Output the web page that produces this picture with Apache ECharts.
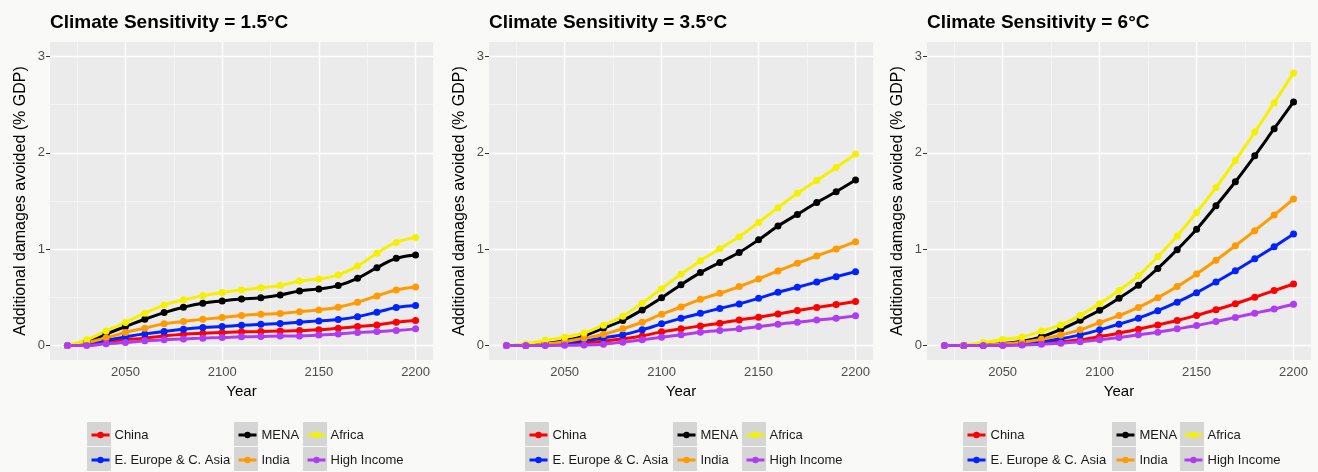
<!DOCTYPE html>
<html><head><meta charset="utf-8">
<script src="https://cdn.jsdelivr.net/npm/echarts@6/dist/echarts.min.js"></script>
<style>html,body{margin:0;padding:0;background:#f9f9f7}#c{width:1318px;height:472px}</style>
</head><body><div id="c"></div><script>
// ---- data ----
const years = [2020,2030,2040,2050,2060,2070,2080,2090,2100,2110,2120,2130,2140,2150,2160,2170,2180,2190,2200];
const regions = ['China','E. Europe & C. Asia','MENA','India','Africa','High Income'];
const regionColors = ['#ff0000','#0022ff','#000000','#ff9a00','#f5f000','#b03cf0'];
const panelTitles = ['Climate Sensitivity = 1.5°C','Climate Sensitivity = 3.5°C','Climate Sensitivity = 6°C'];
const xTickLabels = [2050,2100,2150,2200];
const yTickLabels = [0,1,2,3];
const xMinorGrid = [2025,2075,2125,2175];
const yMinorGrid = [0.5,1.5,2.5];

// Climate sensitivity 1.5°C
const cs15China  = [0,0.015,0.04,0.06,0.077,0.10,0.118,0.128,0.135,0.142,0.145,0.15,0.155,0.163,0.18,0.197,0.214,0.242,0.26];
const cs15EEurope= [0,0.02,0.055,0.09,0.121,0.145,0.17,0.187,0.197,0.21,0.22,0.228,0.242,0.256,0.27,0.30,0.346,0.394,0.415];
const cs15MENA   = [0,0.04,0.12,0.197,0.273,0.342,0.398,0.44,0.463,0.482,0.497,0.525,0.567,0.588,0.622,0.698,0.808,0.905,0.94];
const cs15India  = [0,0.03,0.08,0.135,0.18,0.225,0.249,0.273,0.29,0.312,0.325,0.332,0.352,0.37,0.398,0.45,0.515,0.577,0.608];
const cs15Africa = [0,0.06,0.15,0.24,0.336,0.42,0.474,0.518,0.55,0.577,0.60,0.622,0.67,0.69,0.733,0.826,0.957,1.07,1.12];
const cs15HighInc= [0,0.0,0.018,0.031,0.049,0.059,0.069,0.077,0.083,0.09,0.094,0.10,0.10,0.11,0.121,0.135,0.145,0.155,0.173];
// Climate sensitivity 3.5°C
const cs35China  = [0,0,0.005,0.012,0.025,0.045,0.07,0.10,0.142,0.173,0.204,0.232,0.266,0.294,0.328,0.363,0.396,0.425,0.456];
const cs35EEurope= [0,0,0.01,0.025,0.05,0.08,0.112,0.163,0.225,0.282,0.334,0.385,0.432,0.491,0.553,0.605,0.66,0.715,0.767];
const cs35MENA   = [0,0.005,0.02,0.05,0.10,0.18,0.26,0.37,0.497,0.632,0.757,0.862,0.966,1.097,1.24,1.361,1.484,1.596,1.717];
const cs35India  = [0,0,0.015,0.04,0.075,0.115,0.175,0.242,0.325,0.40,0.48,0.543,0.612,0.691,0.774,0.854,0.93,1.002,1.078];
const cs35Africa = [0,0.017,0.055,0.087,0.13,0.21,0.305,0.44,0.59,0.74,0.881,1.004,1.128,1.278,1.431,1.58,1.714,1.848,1.987];
const cs35HighInc= [0,0,0,0.003,0.006,0.014,0.035,0.059,0.087,0.111,0.139,0.156,0.173,0.197,0.222,0.242,0.264,0.284,0.308];
// Climate sensitivity 6°C
const cs6China   = [0,0,0,0.004,0.01,0.02,0.04,0.06,0.093,0.128,0.17,0.214,0.26,0.313,0.372,0.434,0.501,0.57,0.639];
const cs6EEurope = [0,0,0.002,0.008,0.02,0.04,0.07,0.111,0.163,0.222,0.284,0.362,0.45,0.549,0.66,0.776,0.9,1.026,1.158];
const cs6MENA    = [0,0,0.005,0.02,0.045,0.09,0.168,0.262,0.366,0.491,0.627,0.8,0.995,1.207,1.45,1.70,1.969,2.25,2.528];
const cs6India   = [0,0,0.005,0.015,0.035,0.065,0.11,0.163,0.238,0.311,0.396,0.497,0.612,0.743,0.885,1.035,1.192,1.354,1.52];
const cs6Africa  = [0,0.005,0.031,0.062,0.089,0.15,0.214,0.313,0.435,0.572,0.724,0.922,1.138,1.38,1.639,1.92,2.215,2.518,2.829];
const cs6HighInc = [0,0,0,0.002,0.005,0.013,0.025,0.04,0.059,0.083,0.111,0.139,0.173,0.207,0.249,0.292,0.336,0.38,0.429];

const panelData = [
  [cs15China, cs15EEurope, cs15MENA, cs15India, cs15Africa, cs15HighInc],
  [cs35China, cs35EEurope, cs35MENA, cs35India, cs35Africa, cs35HighInc],
  [cs6China,  cs6EEurope,  cs6MENA,  cs6India,  cs6Africa,  cs6HighInc]
];

// ---- layout ----
const FONT = 'Liberation Sans, Arial, Helvetica, sans-serif';
const gridLefts = [50, 489, 927];
const gridWidths = [383, 384, 384];
const GRID_TOP = 42, GRID_H = 318;
const legendBoxLefts = [[87,234,303],[525,673,742],[963,1112,1180]];
const legendColumns = [[0,1],[2,3],[4,5]];

const chart = echarts.init(document.getElementById('c'), null, {renderer:'canvas'});
const option = {
  backgroundColor: '#f9f9f7',
  animation: false,
  title: [], grid: [], xAxis: [], yAxis: [], series: [], legend: [], graphic: []
};

for (let p = 0; p < 3; p++) {
  option.title.push({
    text: panelTitles[p], left: gridLefts[p], top: 13, padding: 0,
    textStyle: {fontFamily: FONT, fontSize: 19, fontWeight: 'bold', color: '#000'}
  });
  option.grid.push({
    left: gridLefts[p], top: GRID_TOP, width: gridWidths[p], height: GRID_H,
    show: true, backgroundColor: '#ebebeb', borderWidth: 0, containLabel: false
  });
  option.xAxis.push({
    type: 'value', gridIndex: p, min: 2011, max: 2209,
    name: 'Year', nameLocation: 'middle', nameGap: 22,
    nameTextStyle: {fontFamily: FONT, fontSize: 15, color: '#000'},
    axisLine: {show: false},
    axisTick: {show: true, length: 4, lineStyle: {color: '#333', width: 1}, customValues: xTickLabels},
    axisLabel: {customValues: xTickLabels, formatter: v => String(v), fontFamily: FONT, fontSize: 13, color: '#4d4d4d', margin: 6},
    splitLine: {show: false}
  });
  option.yAxis.push({
    type: 'value', gridIndex: p, min: -0.15, max: 3.15,
    name: 'Additional damages avoided (% GDP)', nameLocation: 'middle', nameGap: 21, nameRotate: 90,
    nameTextStyle: {fontFamily: FONT, fontSize: 16, color: '#000'},
    axisLine: {show: false},
    axisTick: {show: true, length: 4, lineStyle: {color: '#333', width: 1}, customValues: yTickLabels},
    axisLabel: {customValues: yTickLabels, formatter: v => String(v), fontFamily: FONT, fontSize: 13, color: '#4d4d4d', margin: 5},
    splitLine: {show: false}
  });
  // grid lines (ggplot style) through the axes' own scales
  const major = {color: '#ffffff', width: 1.4, type: 'solid'};
  const minor = {color: '#f6f6f6', width: 0.8, type: 'solid'};
  const ml = [];
  yMinorGrid.forEach(v => ml.push({yAxis: v, lineStyle: minor}));
  xMinorGrid.forEach(v => ml.push({xAxis: v, lineStyle: minor}));
  yTickLabels.forEach(v => ml.push({yAxis: v, lineStyle: major}));
  xTickLabels.forEach(v => ml.push({xAxis: v, lineStyle: major}));
  option.series.push({
    type: 'line', name: 'grid' + p, xAxisIndex: p, yAxisIndex: p, data: [], z: 1, silent: true,
    markLine: {z: 1, silent: true, symbol: ['none','none'], label: {show: false}, animation: false, data: ml}
  });
}
// lines first (legend uses the first series of each name), then points on top
for (let p = 0; p < 3; p++) {
  regions.forEach((r, i) => {
    option.series.push({
      type: 'line', name: r, xAxisIndex: p, yAxisIndex: p,
      data: years.map((y, k) => [y, panelData[p][i][k]]),
      smooth: p === 0 ? 0.45 : 0.3, showSymbol: false, symbol: 'circle', symbolSize: 7,
      lineStyle: {width: 3, color: regionColors[i]}, itemStyle: {color: regionColors[i]},
      z: 3, silent: true
    });
  });
}
for (let p = 0; p < 3; p++) {
  regions.forEach((r, i) => {
    option.series.push({
      type: 'scatter', name: r + ' pts', xAxisIndex: p, yAxisIndex: p,
      data: years.map((y, k) => [y, panelData[p][i][k]]),
      symbol: 'circle', symbolSize: 7, itemStyle: {color: regionColors[i], opacity: 1},
      z: 4, silent: true
    });
  });
}
// legends: three columns per panel, with ggplot-like gray key boxes
for (let p = 0; p < 3; p++) {
  for (let c = 0; c < 3; c++) {
    const bx = legendBoxLefts[p][c];
    for (let row = 0; row < 2; row++) {
      option.graphic.push({type: 'rect', silent: true, z: 0,
        shape: {x: bx, y: 422 + row * 25, width: 24, height: 24},
        style: {fill: '#d5d5d5'}});
    }
    option.legend.push({
      data: legendColumns[c].map(i => regions[i]),
      orient: 'vertical', left: bx + 3, top: 427, padding: 0,
      itemWidth: 18, itemHeight: 8, itemGap: 9, selectedMode: false,
      lineStyle: {width: 3},
      textStyle: {fontFamily: FONT, fontSize: 13, color: '#1a1a1a', lineHeight: 16}
    });
  }
}
chart.setOption(option);
</script></body></html>
